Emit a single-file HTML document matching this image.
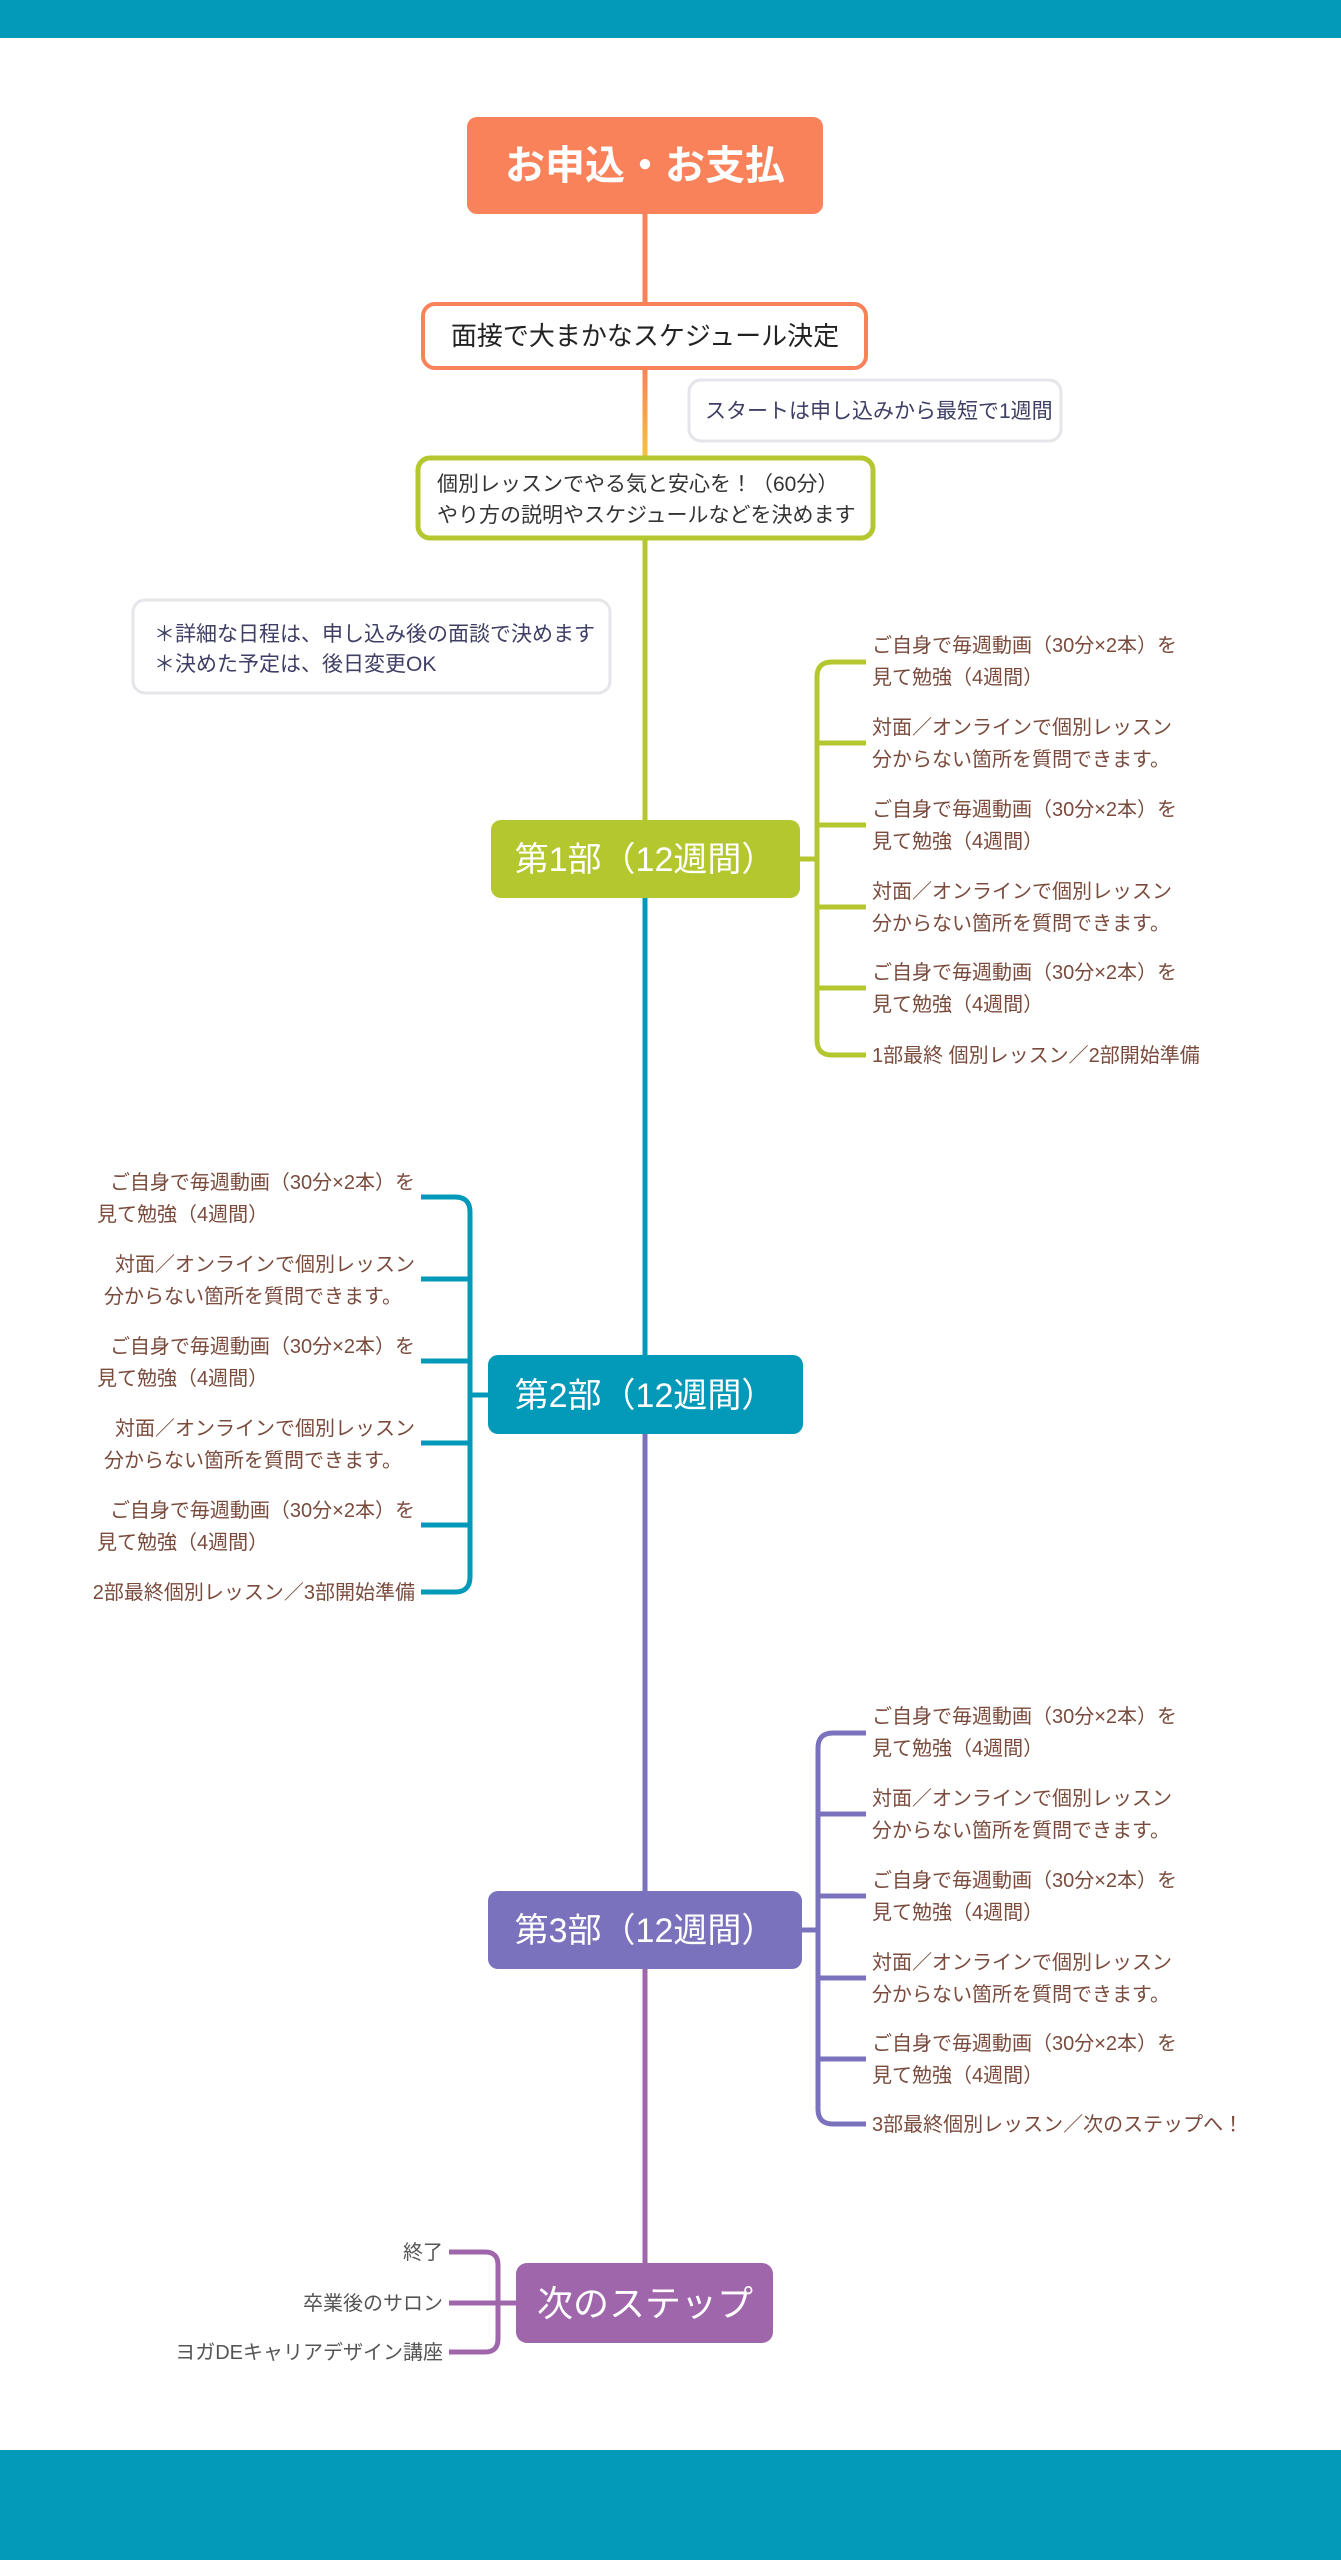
<!DOCTYPE html>
<html><head><meta charset="utf-8"><style>
html,body{margin:0;padding:0;background:#fff;}
svg{display:block;}
text{font-family:"Liberation Sans","Noto Sans CJK JP",sans-serif;}
.it{font-size:20px;fill:#7a4b3c;}
.nt{font-size:21px;fill:#3f3f66;}
</style></head><body>
<svg width="1341" height="2560" viewBox="0 0 1341 2560" xmlns="http://www.w3.org/2000/svg">
<defs><linearGradient id="g1" x1="0" y1="0" x2="0" y2="1"><stop offset="0" stop-color="#f9825a"/><stop offset="1" stop-color="#f5c33b"/></linearGradient></defs>
<rect x="0" y="0" width="1341" height="38" fill="#0399b8"/>
<rect x="0" y="2450" width="1341" height="110" fill="#0399b8"/>

<line x1="645" y1="214" x2="645" y2="304" stroke="#f9825a" stroke-width="5"/>
<rect x="642.5" y="368" width="5" height="90" fill="url(#g1)"/>
<line x1="645" y1="538" x2="645" y2="822" stroke="#b5c72f" stroke-width="5"/>
<line x1="645" y1="896" x2="645" y2="1357" stroke="#0399b8" stroke-width="5"/>
<line x1="645" y1="1432" x2="645" y2="1893" stroke="#7a72bd" stroke-width="5"/>
<line x1="645" y1="1967" x2="645" y2="2265" stroke="#a066ab" stroke-width="5"/>

<rect x="467" y="117" width="356" height="97" rx="10" fill="#f9825a"/>
<text x="645" y="179" text-anchor="middle" font-size="40" font-weight="bold" fill="#fff">お申込・お支払</text>

<rect x="423" y="304" width="443" height="64" rx="12" fill="#fff" stroke="#f9825a" stroke-width="4"/>
<text x="645" y="345" text-anchor="middle" font-size="26" fill="#222">面接で大まかなスケジュール決定</text>

<rect x="689" y="380" width="372" height="61" rx="12" fill="#fff" stroke="#e6e6ea" stroke-width="3"/>
<text x="705" y="418" font-size="21" fill="#3f3f66">スタートは申し込みから最短で1週間</text>

<rect x="418" y="458" width="455" height="80" rx="12" fill="#fff" stroke="#b5c72f" stroke-width="5"/>
<text x="437" y="491" font-size="21" fill="#333">個別レッスンでやる気と安心を！（60分）</text>
<text x="437" y="522" font-size="21" fill="#333">やり方の説明やスケジュールなどを決めます</text>

<rect x="133" y="600" width="477" height="93" rx="12" fill="#fff" stroke="#e6e6ea" stroke-width="3"/>
<text x="154" y="641" class="nt">＊詳細な日程は、申し込み後の面談で決めます</text>
<text x="154" y="671" class="nt">＊決めた予定は、後日変更OK</text>

<rect x="491" y="820" width="309" height="78" rx="10" fill="#b5c72f"/>
<text x="645" y="871" text-anchor="middle" font-size="34" fill="#fff">第1部（12週間）</text>
<g fill="none" stroke="#b5c72f" stroke-width="5">
<path d="M866 662 H832 Q817 662 817 677 V1040 Q817 1055 832 1055 H866"/>
<path d="M817 743 H866 M817 825 H866 M817 907 H866 M817 988 H866 M800 859 H817"/>
</g>
<g>
<text x="872" y="652" class="it">ご自身で毎週動画（30分×2本）を</text><text x="872" y="684" class="it">見て勉強（4週間）</text>
<text x="872" y="734" class="it">対面／オンラインで個別レッスン</text><text x="872" y="766" class="it">分からない箇所を質問できます。</text>
<text x="872" y="816" class="it">ご自身で毎週動画（30分×2本）を</text><text x="872" y="848" class="it">見て勉強（4週間）</text>
<text x="872" y="898" class="it">対面／オンラインで個別レッスン</text><text x="872" y="930" class="it">分からない箇所を質問できます。</text>
<text x="872" y="979" class="it">ご自身で毎週動画（30分×2本）を</text><text x="872" y="1011" class="it">見て勉強（4週間）</text>
<text x="872" y="1062" class="it">1部最終 個別レッスン／2部開始準備</text>
</g>

<rect x="488" y="1355" width="315" height="79" rx="10" fill="#0399b8"/>
<text x="645" y="1407" text-anchor="middle" font-size="34" fill="#fff">第2部（12週間）</text>
<g fill="none" stroke="#0399b8" stroke-width="5">
<path d="M421 1197 H455 Q470 1197 470 1212 V1577 Q470 1592 455 1592 H421"/>
<path d="M470 1279 H421 M470 1361 H421 M470 1443 H421 M470 1525 H421 M470 1395 H488"/>
</g>
<g>
<text x="415" y="1189" text-anchor="end" class="it">ご自身で毎週動画（30分×2本）を</text><text x="97" y="1221" class="it">見て勉強（4週間）</text>
<text x="415" y="1271" text-anchor="end" class="it">対面／オンラインで個別レッスン</text><text x="104" y="1303" class="it">分からない箇所を質問できます。</text>
<text x="415" y="1353" text-anchor="end" class="it">ご自身で毎週動画（30分×2本）を</text><text x="97" y="1385" class="it">見て勉強（4週間）</text>
<text x="415" y="1435" text-anchor="end" class="it">対面／オンラインで個別レッスン</text><text x="104" y="1467" class="it">分からない箇所を質問できます。</text>
<text x="415" y="1517" text-anchor="end" class="it">ご自身で毎週動画（30分×2本）を</text><text x="97" y="1549" class="it">見て勉強（4週間）</text>
<text x="415" y="1599" text-anchor="end" class="it">2部最終個別レッスン／3部開始準備</text>
</g>

<rect x="488" y="1891" width="314" height="78" rx="10" fill="#7a72bd"/>
<text x="645" y="1942" text-anchor="middle" font-size="34" fill="#fff">第3部（12週間）</text>
<g fill="none" stroke="#7a72bd" stroke-width="5">
<path d="M866 1733 H833 Q818 1733 818 1748 V2109 Q818 2124 833 2124 H866"/>
<path d="M818 1814 H866 M818 1896 H866 M818 1978 H866 M818 2059 H866 M802 1930 H818"/>
</g>
<g>
<text x="872" y="1723" class="it">ご自身で毎週動画（30分×2本）を</text><text x="872" y="1755" class="it">見て勉強（4週間）</text>
<text x="872" y="1805" class="it">対面／オンラインで個別レッスン</text><text x="872" y="1837" class="it">分からない箇所を質問できます。</text>
<text x="872" y="1887" class="it">ご自身で毎週動画（30分×2本）を</text><text x="872" y="1919" class="it">見て勉強（4週間）</text>
<text x="872" y="1969" class="it">対面／オンラインで個別レッスン</text><text x="872" y="2001" class="it">分からない箇所を質問できます。</text>
<text x="872" y="2050" class="it">ご自身で毎週動画（30分×2本）を</text><text x="872" y="2082" class="it">見て勉強（4週間）</text>
<text x="872" y="2131" class="it">3部最終個別レッスン／次のステップへ！</text>
</g>

<rect x="516" y="2263" width="257" height="80" rx="11" fill="#a066ab"/>
<text x="645" y="2316" text-anchor="middle" font-size="36" fill="#fff">次のステップ</text>
<g fill="none" stroke="#a066ab" stroke-width="5">
<path d="M449 2252 H485 Q498 2252 498 2265 V2339 Q498 2352 485 2352 H449"/>
<path d="M449 2303 H516"/>
</g>
<text x="443" y="2259" text-anchor="end" font-size="20" fill="#555">終了</text>
<text x="443" y="2310" text-anchor="end" font-size="20" fill="#555">卒業後のサロン</text>
<text x="443" y="2359" text-anchor="end" font-size="20" fill="#555">ヨガDEキャリアデザイン講座</text>
</svg>
</body></html>
